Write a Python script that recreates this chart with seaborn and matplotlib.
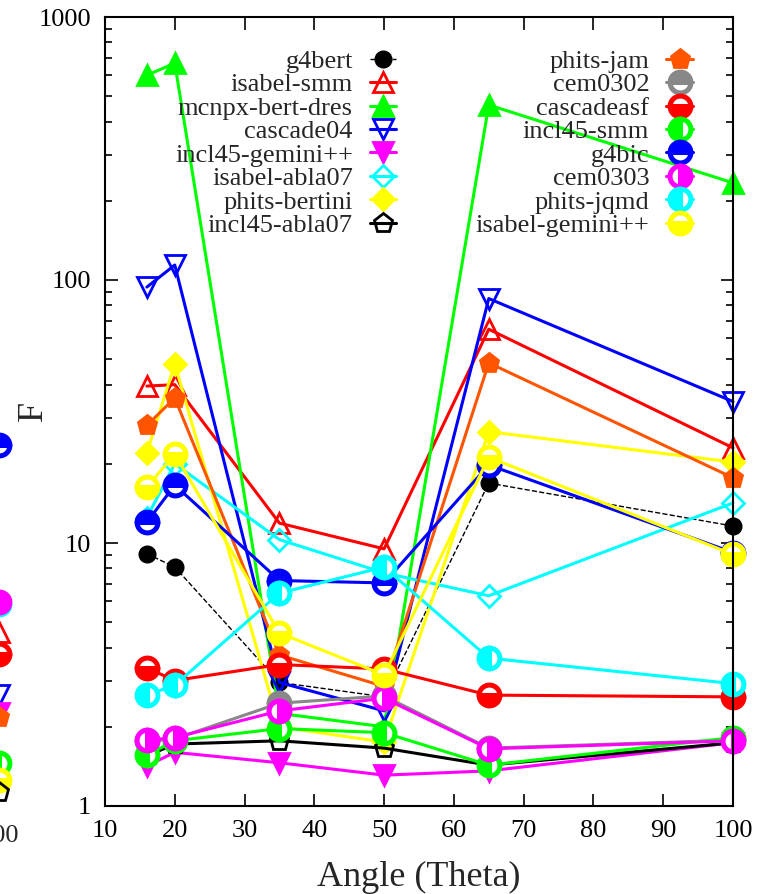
import numpy as np
import pandas as pd
import matplotlib
matplotlib.use('Agg')
import matplotlib.pyplot as plt
import seaborn as sns
from matplotlib.ticker import LogLocator, NullFormatter, FixedLocator

# angles (x) shared by every model
angles = [16, 20, 35, 50, 65, 100]

# F values per model
g4bert = [9.1, 8.1, 2.95, 2.6, 16.9, 11.6]
isabel_smm = [39.5, 40, 11.9, 9.5, 65, 23]
mcnpx_bert_dres = [600, 668, 2.25, 2.0, 463, 234]
cascade04 = [94, 114, 2.95, 2.3, 85, 34.5]
incl45_gemini = [1.42, 1.6, 1.46, 1.31, 1.36, 1.74]
isabel_abla07 = [12.5, 20, 10.3, 7.7, 6.3, 14.2]
phits_bertini = [22, 48, 2.0, 1.75, 26.5, 20.3]
incl45_abla07 = [1.55, 1.72, 1.77, 1.66, 1.43, 1.74]
phits_jam = [28, 35.6, 3.75, 2.85, 48.4, 17.7]
cem0302 = [1.76, 1.8, 2.46, 2.62, 1.66, 1.78]
cascadeasf = [3.35, 3.0, 3.45, 3.32, 2.64, 2.6]
incl45_smm = [1.56, 1.77, 1.97, 1.9, 1.43, 1.82]
g4bic = [12, 16.6, 7.2, 7.05, 19.8, 9.2]
cem0303 = [1.78, 1.82, 2.3, 2.57, 1.65, 1.77]
phits_jqmd = [2.64, 2.88, 6.45, 8.1, 3.65, 2.92]
isabel_gemini = [16.3, 21.8, 4.55, 3.15, 21.2, 9.05]

models = ['g4bert', 'isabel-smm', 'mcnpx-bert-dres', 'cascade04', 'incl45-gemini++',
          'isabel-abla07', 'phits-bertini', 'incl45-abla07', 'phits-jam', 'cem0302',
          'cascadeasf', 'incl45-smm', 'g4bic', 'cem0303', 'phits-jqmd', 'isabel-gemini++']
values = [g4bert, isabel_smm, mcnpx_bert_dres, cascade04, incl45_gemini, isabel_abla07,
          phits_bertini, incl45_abla07, phits_jam, cem0302, cascadeasf, incl45_smm,
          g4bic, cem0303, phits_jqmd, isabel_gemini]

# neighbouring panel (cut off at the left edge), only its last column shows
left_models = ['g4bic', 'phits-jqmd', 'cem0303', 'isabel-smm', 'cascadeasf', 'cascade04',
               'incl45-gemini++', 'phits-jam', 'incl45-smm', 'isabel-gemini++', 'incl45-abla07']
left_vals = [23.6, 5.85, 5.97, 4.6, 3.8, 2.65, 2.25, 2.18, 1.46, 1.26, 1.13]

# style: color, marker, filled / fillstyle, linestyle
styles = {
    'g4bert': ('black', 'o', 'full', '--'),
    'isabel-smm': ('#ff0000', '^', 'none', '-'),
    'mcnpx-bert-dres': ('#00ff00', '^', 'full', '-'),
    'cascade04': ('#0000ff', 'v', 'none', '-'),
    'incl45-gemini++': ('#ff00ff', 'v', 'full', '-'),
    'isabel-abla07': ('#00ffff', 'D', 'none', '-'),
    'phits-bertini': ('#ffff00', 'D', 'full', '-'),
    'incl45-abla07': ('black', 'p', 'none', '-'),
    'phits-jam': ('#ff5500', 'p', 'full', '-'),
    'cem0302': ('#888888', 'o', 'top', '-'),
    'cascadeasf': ('#ff0000', 'o', 'bottom', '-'),
    'incl45-smm': ('#00ff00', 'o', 'left', '-'),
    'g4bic': ('#0000ff', 'o', 'top', '-'),
    'cem0303': ('#ff00ff', 'o', 'right', '-'),
    'phits-jqmd': ('#00ffff', 'o', 'left', '-'),
    'isabel-gemini++': ('#ffff00', 'o', 'bottom', '-'),
}


def marker_kw(name):
    color, marker, fill, ls = styles[name]
    kw = dict(color=color, marker=marker, markeredgecolor=color)
    if name == 'g4bert':
        kw.update(markersize=12, markeredgewidth=1)
    elif marker == 'o':
        kw.update(markersize=15, markeredgewidth=3.6, fillstyle=fill,
                  markerfacecolor=color, markerfacecoloralt='white')
    elif marker == 'D':
        kw.update(markersize=11, markeredgewidth=2,
                  markerfacecolor=(color if fill == 'full' else 'none'))
    else:
        kw.update(markersize=14, markeredgewidth=2,
                  markerfacecolor=(color if fill == 'full' else 'none'))
    return kw


sns.set_style('ticks')
plt.rcParams['font.family'] = ['Liberation Serif', 'DejaVu Serif']

fig = plt.figure(figsize=(7.63, 8.94), dpi=100)
ax = fig.add_axes([105 / 763, 1 - 806 / 894, 628 / 763, 789 / 894])

df = pd.DataFrame({'angle': np.tile(angles, len(models)),
                   'F': np.concatenate(values),
                   'model': np.repeat(models, len(angles))})

for name in models:
    sub = df[df['model'] == name]
    ls = styles[name][3]
    lw = 1.0 if name == 'g4bert' else 2.2
    sns.lineplot(data=sub, x='angle', y='F', ax=ax, linestyle=ls, linewidth=lw,
                 label=name, clip_on=False, **marker_kw(name))

ax.set_yscale('log')
ax.set_xlim(10, 100)
ax.set_ylim(1, 1000)
ax.set_xticks(range(10, 101, 10))
ax.set_yticks([1, 10, 100, 1000])
ax.set_yticklabels(['1', '10', '100', '1000'])
ax.yaxis.set_minor_locator(LogLocator(base=10, subs=np.arange(2, 10)))
ax.yaxis.set_minor_formatter(NullFormatter())
ax.tick_params(which='both', direction='in', top=True, right=True, labelsize=19,
               width=1.2, pad=10, colors='black')
ax.tick_params(which='major', length=9)
ax.tick_params(which='minor', length=5)
for sp in ax.spines.values():
    sp.set_linewidth(1.5)
    sp.set_color('black')

ax.set_xlabel('Angle (Theta)', fontsize=26, labelpad=14)
ax.set_ylabel('F', fontsize=26)
ax.yaxis.set_label_coords(-0.088, 0.5)

handles, labels = ax.get_legend_handles_labels()
ax.legend(handles, labels, ncol=2, loc='upper right', bbox_to_anchor=(0.936, 0.959),
          frameon=False, markerfirst=False, fontsize=19, handlelength=1.0,
          handletextpad=0.65, labelspacing=0.0, columnspacing=3.0,
          borderaxespad=0, borderpad=0, numpoints=1)

# cut-off neighbour panel at the left edge
ax2 = fig.add_axes([(-1 - 628) / 763, 1 - 806 / 894, 628 / 763, 789 / 894])
ax2.set_yscale('log')
ax2.set_xlim(10, 100)
ax2.set_ylim(1, 1000)
for name, v in zip(left_models, left_vals):
    sns.lineplot(x=[100], y=[v], ax=ax2, linestyle='none', clip_on=False, **marker_kw(name))
ax2.set_xticks([100])
ax2.set_xticklabels(['100'])
ax2.set_yticks([])
ax2.yaxis.set_minor_locator(FixedLocator([]))
ax2.tick_params(axis='x', length=0, labelsize=19, pad=14)
ax2.set_xlabel('')
ax2.set_ylabel('')
for sp in ax2.spines.values():
    sp.set_visible(False)
ax2.patch.set_alpha(0)

fig.savefig('out.png', dpi=100)
